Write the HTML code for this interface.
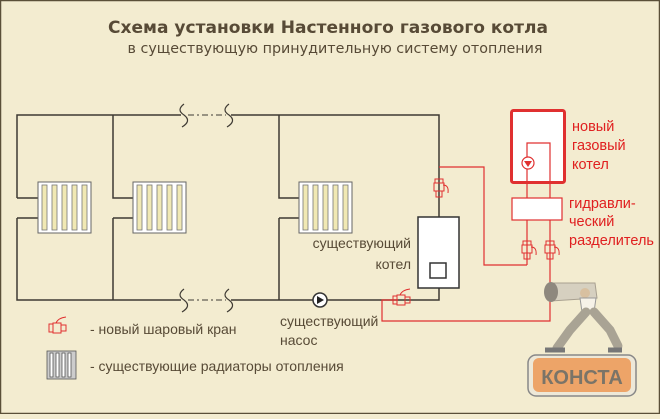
<!DOCTYPE html>
<html><head><meta charset="utf-8"><style>
html,body{margin:0;padding:0}
body{width:660px;height:414px;background:#f3ecd0;overflow:hidden;font-family:"Liberation Sans","DejaVu Sans",sans-serif}
</style></head><body>
<svg width="660" height="414" viewBox="0 0 660 414" xmlns="http://www.w3.org/2000/svg" font-family="'Liberation Sans','DejaVu Sans',sans-serif">
<rect x="0.5" y="0.5" width="659" height="413" fill="#f3ecd0" stroke="#5a4f38" stroke-width="1.5"/>
<text x="328" y="33" text-anchor="middle" font-size="17" font-weight="bold" fill="#574a36" font-family="'DejaVu Sans',sans-serif" textLength="440" lengthAdjust="spacingAndGlyphs">Схема установки Настенного газового котла</text>
<text x="335" y="53" text-anchor="middle" font-size="14" fill="#574a36" font-family="'DejaVu Sans',sans-serif" textLength="415" lengthAdjust="spacingAndGlyphs">в существующую принудительную  систему отопления</text>
<defs>
<g id="rad">
<rect x="0" y="0" width="53" height="51" fill="#fff" stroke="#666" stroke-width="1"/>
<g fill="#f1e9b4" stroke="#777" stroke-width="0.8">
<rect x="4" y="3" width="5" height="45"/><rect x="14" y="3" width="5" height="45"/><rect x="24" y="3" width="5" height="45"/><rect x="34" y="3" width="5" height="45"/><rect x="44" y="3" width="5" height="45"/>
</g></g>
<g id="valv" fill="none" stroke="#e03030" stroke-width="1">
<rect x="-4" y="-9" width="8" height="4"/><rect x="-5" y="-5" width="10" height="8"/><rect x="-3" y="3" width="6" height="6"/><path d="M4 -3 q6 0 5 8"/>
</g>
<g id="valh" fill="none" stroke="#e03030" stroke-width="1">
<rect x="-9" y="-4" width="4" height="8"/><rect x="-5" y="-5" width="8" height="10"/><rect x="3" y="-3" width="5" height="6"/><path d="M-2 -5 q2 -5 10 -6"/>
</g>
</defs>
<g stroke="#3e3a33" stroke-width="1.5" fill="none">
<path d="M17 198 V115 H181 M231 115 H439 V217"/>
<path d="M17 218 V300 H181 M231 300 H418"/>
<path d="M17 198 H38 M17 218 H38"/>
<path d="M113 115 V198 H133 M113 218 V300 M113 218 H133"/>
<path d="M279 115 V198 H299 M279 218 V300 M279 218 H299"/>
<path d="M439 288 V300 H418"/>
<path d="M184 104 q-8 6 0 11 q8 6 -2 12 M229 104 q-8 6 0 11 q8 6 -2 12" stroke-width="1.2"/>
<path d="M184 289 q-8 6 0 11 q8 6 -2 12 M229 289 q-8 6 0 11 q8 6 -2 12" stroke-width="1.2"/>
<path d="M188 115 H226 M188 300 H226" stroke-width="1" stroke-dasharray="6,3,2,3"/>
</g>
<use href="#rad" x="38" y="182"/><use href="#rad" x="133" y="182"/><use href="#rad" x="299" y="182"/>
<circle cx="320" cy="300" r="7" fill="#fff" stroke="#333" stroke-width="1.5"/>
<path d="M317 296 L324 300 L317 304 Z" fill="#222"/>
<rect x="418" y="217" width="41" height="71" fill="#fff" stroke="#333" stroke-width="1.5"/>
<rect x="430" y="263" width="16" height="15" fill="#fff" stroke="#333" stroke-width="1.5"/>
<g stroke="#e03030" stroke-width="1.2" fill="none">
<path d="M439 167 H484 V265 H527"/>
<path d="M527 220 V265 M550 220 V321 H382 V300 H398"/>
<path d="M527 183 V198 M550 183 V198"/>
</g>
<rect x="511.5" y="110.5" width="53" height="72" rx="2" fill="#fff" stroke="#e03030" stroke-width="3"/>
<path d="M527 182 V143 H550 V182" fill="none" stroke="#e03030" stroke-width="1.2"/>
<circle cx="528" cy="163" r="6" fill="#fff" stroke="#e03030" stroke-width="1.2"/>
<path d="M524 161 H532 L528 167 Z" fill="#e03030"/>
<rect x="512" y="198" width="50" height="22" fill="#fff" stroke="#e03030" stroke-width="1.2"/>
<use href="#valv" x="439" y="188"/><use href="#valv" x="527" y="250"/><use href="#valv" x="550" y="250"/>
<use href="#valh" x="402" y="300"/>
<use href="#valh" x="58" y="328"/>
<g fill="#574a36" font-size="14">
<text x="411" y="248" text-anchor="end">существующий</text>
<text x="411" y="269" text-anchor="end">котел</text>
<text x="280" y="326">существующий</text>
<text x="280" y="345">насос</text>
<text x="90" y="334">- новый шаровый кран</text>
<text x="90" y="371">- существующие радиаторы отопления</text>
</g>
<g fill="#e02020" font-size="14.5">
<text x="572" y="131">новый</text><text x="572" y="150">газовый</text><text x="572" y="169">котел</text>
<text x="569" y="208">гидравли-</text><text x="569" y="226">ческий</text><text x="569" y="245">разделитель</text>
</g>
<g fill="#e6e0d0" stroke="#555" stroke-width="0.8">
<rect x="47" y="351" width="29" height="28" fill="#ccc"/>
<rect x="50" y="353" width="3" height="24" fill="#fff"/><rect x="56" y="353" width="3" height="24" fill="#fff"/><rect x="62" y="353" width="3" height="24" fill="#fff"/><rect x="68" y="353" width="3" height="24" fill="#fff"/>
</g>
<!-- logo -->
<g>
<path d="M549 283 L595 283 L597 298 L551 301 Z" fill="#d6d0c0" stroke="#a8a090"/>
<ellipse cx="551" cy="292" rx="7" ry="10" fill="#8e887e"/>
<circle cx="585" cy="293" r="5" fill="#d8c0a0"/>
<path d="M580 298 L596 298 L594 312 L582 312 Z" fill="#f6f2e8" stroke="#999"/>
<path d="M586 312 L570 330 L557 348 M594 312 L610 330 L618 346" stroke="#a9a394" stroke-width="9" fill="none" stroke-linecap="round"/>
<path d="M545 350 H565 M608 350 H622" stroke="#777" stroke-width="5"/>
<rect x="528" y="355" width="108" height="41" rx="8" fill="#ede8d8" stroke="#888" stroke-width="1.5"/>
<rect x="533" y="358" width="98" height="34" rx="6" fill="#eda468"/>
<text x="582" y="384" text-anchor="middle" font-size="20" font-weight="bold" fill="#7a7468">КОНСТА</text>
</g>
</svg>
</body></html>
